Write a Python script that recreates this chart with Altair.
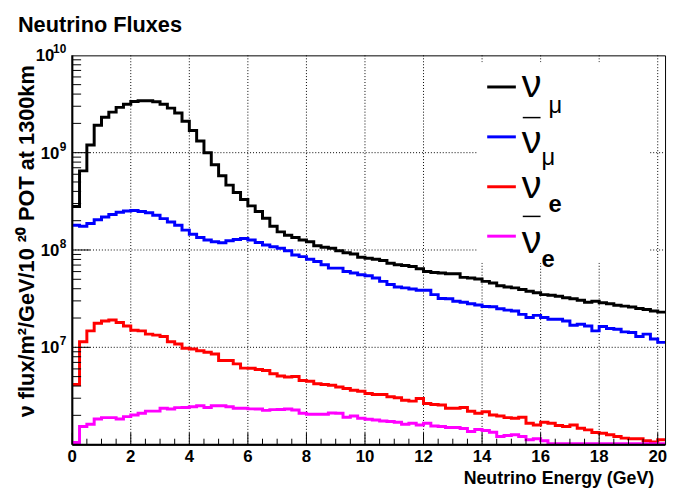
import altair as alt
import pandas as pd

# ---------------- data ----------------
BIN_WIDTH = 0.25  # GeV
E_MAX = 20.25

series_names = ["numubar", "numu", "nuebar", "nue"]
series_colors = ["#000000", "#0000ff", "#ff0000", "#ff00ff"]

flux_black = [2.8e8, 6.5e8, 1.20e9, 1.91e9, 2.31e9, 2.61e9, 2.92e9, 3.15e9, 3.36e9, 3.41e9,
              3.41e9, 3.33e9, 3.15e9, 2.87e9, 2.55e9, 2.10e9, 1.69e9, 1.315e9, 1.0e9, 7.50e8,
              5.79e8, 4.64e8, 3.89e8, 3.30e8, 2.84e8, 2.49e8, 2.12e8, 1.755e8, 1.535e8, 1.42e8,
              1.347e8, 1.264e8, 1.215e8, 1.106e8, 1.065e8, 1.04e8, 9.84e7, 9.39e7, 9.11e7, 8.43e7,
              8.23e7, 8.04e7, 7.78e7, 7.32e7, 7.04e7, 6.92e7, 6.76e7, 6.41e7, 6.01e7, 5.88e7,
              5.79e7, 5.70e7, 5.70e7, 5.23e7, 5.15e7, 5.04e7, 4.76e7, 4.58e7, 4.30e7, 4.17e7,
              4.08e7, 3.92e7, 3.77e7, 3.63e7, 3.48e7, 3.43e7, 3.35e7, 3.23e7, 3.15e7, 3.05e7,
              2.91e7, 2.98e7, 2.87e7, 2.80e7, 2.71e7, 2.65e7, 2.59e7, 2.51e7, 2.45e7, 2.36e7, 2.30e7]

flux_blue = [1.80e8, 1.755e8, 1.87e8, 2.05e8, 2.18e8, 2.32e8, 2.44e8, 2.51e8, 2.55e8, 2.49e8,
             2.41e8, 2.27e8, 2.10e8, 1.94e8, 1.80e8, 1.60e8, 1.455e8, 1.347e8, 1.264e8, 1.215e8,
             1.187e8, 1.243e8, 1.285e8, 1.315e8, 1.264e8, 1.192e8, 1.124e8, 1.080e8, 1.04e8, 9.84e7,
             8.89e7, 8.55e7, 8.04e7, 7.60e7, 7.04e7, 6.51e7, 6.51e7, 6.01e7, 5.79e7, 5.57e7,
             5.44e7, 5.15e7, 4.76e7, 4.41e7, 4.17e7, 4.08e7, 3.98e7, 3.85e7, 3.85e7, 3.48e7,
             3.17e7, 3.15e7, 2.98e7, 2.91e7, 2.80e7, 2.72e7, 2.63e7, 2.61e7, 2.49e7, 2.41e7,
             2.36e7, 2.18e7, 2.02e7, 2.13e7, 2.02e7, 1.94e7, 1.94e7, 1.865e7, 1.686e7, 1.726e7,
             1.658e7, 1.475e7, 1.635e7, 1.561e7, 1.536e7, 1.441e7, 1.42e7, 1.294e7, 1.366e7, 1.215e7, 1.124e7]

flux_red = [4.14e6, 1.14e7, 1.475e7, 1.767e7, 1.865e7, 1.91e7, 1.796e7, 1.658e7, 1.50e7, 1.475e7,
            1.366e7, 1.334e7, 1.294e7, 1.14e7, 1.08e7, 9.77e6, 9.61e6, 9.23e6, 8.89e6, 8.55e6,
            7.31e6, 7.31e6, 6.76e6, 6.11e6, 6.09e6, 5.92e6, 5.78e6, 5.35e6, 5.07e6, 4.95e6,
            5.02e6, 4.57e6, 4.47e6, 4.23e6, 4.14e6, 4.07e6, 3.92e6, 3.77e6, 3.62e6, 3.53e6,
            3.35e6, 3.27e6, 3.27e6, 3.10e6, 3.03e6, 2.86e6, 2.80e6, 2.98e6, 2.65e6, 2.59e6,
            2.55e6, 2.36e6, 2.36e6, 2.41e6, 2.20e6, 2.10e6, 2.18e6, 2.015e6, 1.97e6, 1.895e6,
            1.865e6, 1.91e6, 1.658e6, 1.594e6, 1.698e6, 1.658e6, 1.572e6, 1.536e6, 1.594e6, 1.475e6,
            1.418e6, 1.334e6, 1.312e6, 1.261e6, 1.215e6, 1.167e6, 1.148e6, 1.148e6, 1.096e6, 1.063e6, 1.121e6]

flux_magenta = [1.05e6, 1.536e6, 1.62e6, 1.834e6, 1.895e6, 1.895e6, 1.834e6, 1.94e6, 2.015e6, 2.10e6,
                2.21e6, 2.21e6, 2.36e6, 2.32e6, 2.40e6, 2.41e6, 2.45e6, 2.51e6, 2.41e6, 2.51e6,
                2.51e6, 2.45e6, 2.36e6, 2.36e6, 2.33e6, 2.32e6, 2.25e6, 2.29e6, 2.30e6, 2.32e6,
                2.265e6, 2.10e6, 2.05e6, 2.05e6, 2.05e6, 2.11e6, 2.10e6, 1.91e6, 1.97e6, 1.865e6,
                1.82e6, 1.79e6, 1.75e6, 1.726e6, 1.698e6, 1.62e6, 1.658e6, 1.594e6, 1.658e6, 1.557e6,
                1.536e6, 1.50e6, 1.50e6, 1.465e6, 1.366e6, 1.43e6, 1.398e6, 1.343e6, 1.215e6, 1.243e6,
                1.261e6, 1.215e6, 1.121e6, 1.148e6, 1.096e6, 1.02e6, 1.02e6, 1.02e6, 1.02e6, 1.02e6,
                1.02e6, 1.02e6, 1.02e6, 1.02e6, 1.02e6, 1.02e6, 1.02e6, 1.02e6, 1.02e6, 1.02e6, 1.02e6]

x_major = [0, 2, 4, 6, 8, 10, 12, 14, 16, 18, 20]
x_tick_labels = ["0", "2", "4", "6", "8", "10", "12", "14", "16", "18", "20"]
y_decades = [1e7, 1e8, 1e9, 1e10]
y_exponents = ["7", "8", "9", "10"]

legend_symbol = "\u03bd"
legend_subs = ["\u03bc", "\u03bc", "e", "e"]
legend_bar = [True, False, True, False]

title_text = "Neutrino Fluxes"
x_title = "Neutrino Energy (GeV)"
y_title = "\u03bd flux/m\u00b2/GeV/10 \u00b2\u2070 POT at 1300km"

# ---------------- build tables ----------------
rows = []
for name, vals in zip(series_names, [flux_black, flux_blue, flux_red, flux_magenta]):
    for i, v in enumerate(vals):
        rows.append({"series": name, "E": i * BIN_WIDTH, "flux": v, "k": i})
    rows.append({"series": name, "E": len(vals) * BIN_WIDTH, "flux": vals[-1], "k": len(vals)})
df = pd.DataFrame(rows)

x_minor = [m * 0.5 for m in range(1, 41) if (m * 0.5) % 2 != 0]
y_minor = [k * 10.0 ** n for n in range(6, 10) for k in range(2, 10)]

W, H = 600, 394
FONT = "Liberation Sans"

xs = alt.Scale(domain=[0, E_MAX], nice=False, zero=False)
ys = alt.Scale(type="log", domain=[1e6, 1e10], nice=False)

one = pd.DataFrame({"a": [0]})

grid_x = alt.Chart(pd.DataFrame({"E": x_major[1:]})).mark_rule(
    color="black", strokeWidth=1, strokeDash=[1, 2]
).encode(x=alt.X("E:Q", scale=xs, axis=None), y=alt.value(0), y2=alt.value(H))

grid_y = alt.Chart(pd.DataFrame({"v": y_decades[:-1]})).mark_rule(
    color="black", strokeWidth=1, strokeDash=[1, 2]
).encode(y=alt.Y("v:Q", scale=ys, axis=None), x=alt.value(0), x2=alt.value(W))

legend_box = alt.Chart(one).mark_rect(color="white").encode(
    x=alt.value(410), x2=alt.value(584), y=alt.value(7), y2=alt.value(210)
)

lines = alt.Chart(df).mark_line(
    interpolate="step-after", strokeWidth=3, clip=True, strokeJoin="miter"
).encode(
    x=alt.X("E:Q", scale=xs, axis=None),
    y=alt.Y("flux:Q", scale=ys, axis=None),
    color=alt.Color("series:N", scale=alt.Scale(domain=series_names, range=series_colors), legend=None),
    order="k:Q",
)

tick_x_major = alt.Chart(pd.DataFrame({"E": x_major})).mark_rule(color="black", strokeWidth=1).encode(
    x=alt.X("E:Q", scale=xs), y=alt.value(H), y2=alt.value(H - 12))
tick_x_minor = alt.Chart(pd.DataFrame({"E": x_minor})).mark_rule(color="black", strokeWidth=1).encode(
    x=alt.X("E:Q", scale=xs), y=alt.value(H), y2=alt.value(H - 6))
tick_y_major = alt.Chart(pd.DataFrame({"v": y_decades[:-1]})).mark_rule(color="black", strokeWidth=1).encode(
    y=alt.Y("v:Q", scale=ys), x=alt.value(0), x2=alt.value(18))
tick_y_minor = alt.Chart(pd.DataFrame({"v": y_minor})).mark_rule(color="black", strokeWidth=1).encode(
    y=alt.Y("v:Q", scale=ys), x=alt.value(0), x2=alt.value(9))

axis_left = alt.Chart(one).mark_rule(color="black", strokeWidth=2).encode(
    x=alt.value(0), y=alt.value(0), y2=alt.value(H))
axis_bottom = alt.Chart(one).mark_rule(color="black", strokeWidth=2).encode(
    x=alt.value(0), x2=alt.value(W), y=alt.value(H))

xlab = alt.Chart(pd.DataFrame({"E": x_major, "t": x_tick_labels})).mark_text(
    font=FONT, fontWeight="bold", fontSize=17, align="center", baseline="top", color="black"
).encode(x=alt.X("E:Q", scale=xs), y=alt.value(H + 5), text="t:N")

ydf = pd.DataFrame({"v": y_decades, "e": y_exponents, "b": ["10"] * len(y_decades)})
ybase_single = alt.Chart(ydf[ydf["e"].str.len() == 1]).mark_text(
    font=FONT, fontWeight="bold", fontSize=17, align="right", baseline="middle", dy=1, color="black"
).encode(y=alt.Y("v:Q", scale=ys), x=alt.value(-13), text="b:N")
ybase_double = alt.Chart(ydf[ydf["e"].str.len() == 2]).mark_text(
    font=FONT, fontWeight="bold", fontSize=17, align="right", baseline="middle", dy=1, color="black"
).encode(y=alt.Y("v:Q", scale=ys), x=alt.value(-18), text="b:N")
yexp = alt.Chart(ydf).mark_text(
    font=FONT, fontWeight="bold", fontSize=12, align="right", baseline="middle", dy=-6, color="black"
).encode(y=alt.Y("v:Q", scale=ys), x=alt.value(-6), text="e:N")

ytitle = alt.Chart(one).mark_text(
    font=FONT, fontWeight="bold", fontSize=22, angle=270, align="right", baseline="middle", color="black"
).encode(x=alt.value(-46), y=alt.value(10), text=alt.value(y_title))

xtitle = alt.Chart(one).mark_text(
    font=FONT, fontWeight="bold", fontSize=18, align="right", baseline="middle", color="black"
).encode(x=alt.value(589), y=alt.value(H + 35), text=alt.value(x_title))

maintitle = alt.Chart(one).mark_text(
    font=FONT, fontWeight="bold", fontSize=22, align="left", baseline="alphabetic", color="black"
).encode(x=alt.value(-55), y=alt.value(-24), text=alt.value(title_text))

# legend (manual, to reproduce the sub-script layout)
legend_layers = []
line_y = [32, 82.5, 133, 183]
nu_base = [42, 99, 144, 200]
sub_x = [482, 475, 482, 475]
sub_base = [58, 111, 159, 214]
bar_y = [63, None, 163, None]
for i in range(4):
    legend_layers.append(alt.Chart(one).mark_rule(color=series_colors[i], strokeWidth=3).encode(
        x=alt.value(420), x2=alt.value(449), y=alt.value(line_y[i])))
    legend_layers.append(alt.Chart(one).mark_text(
        font=FONT, fontSize=40, align="left", baseline="alphabetic", color="black"
    ).encode(x=alt.value(455), y=alt.value(nu_base[i]), text=alt.value(legend_symbol)))
    legend_layers.append(alt.Chart(one).mark_text(
        font=FONT, fontSize=24, fontWeight=("bold" if legend_subs[i] == "e" else "normal"),
        align="left", baseline="alphabetic", color="black"
    ).encode(x=alt.value(sub_x[i]), y=alt.value(sub_base[i]), text=alt.value(legend_subs[i])))
    if legend_bar[i]:
        legend_layers.append(alt.Chart(one).mark_rule(color="black", strokeWidth=1.5).encode(
            x=alt.value(456), x2=alt.value(474), y=alt.value(bar_y[i])))

chart = alt.layer(
    grid_x, grid_y, legend_box, lines,
    tick_x_major, tick_x_minor, tick_y_major, tick_y_minor,
    axis_left, axis_bottom,
    xlab, ybase_single, ybase_double, yexp, ytitle, xtitle, maintitle,
    *legend_layers
).properties(
    width=W, height=H,
    autosize=alt.AutoSizeParams(type="none"),
    padding={"left": 65, "top": 45, "right": 4, "bottom": 44},
    background="white",
).configure_view(stroke="black", strokeWidth=1)

chart.save("out.html", embed_options={"renderer": "svg", "actions": False})
